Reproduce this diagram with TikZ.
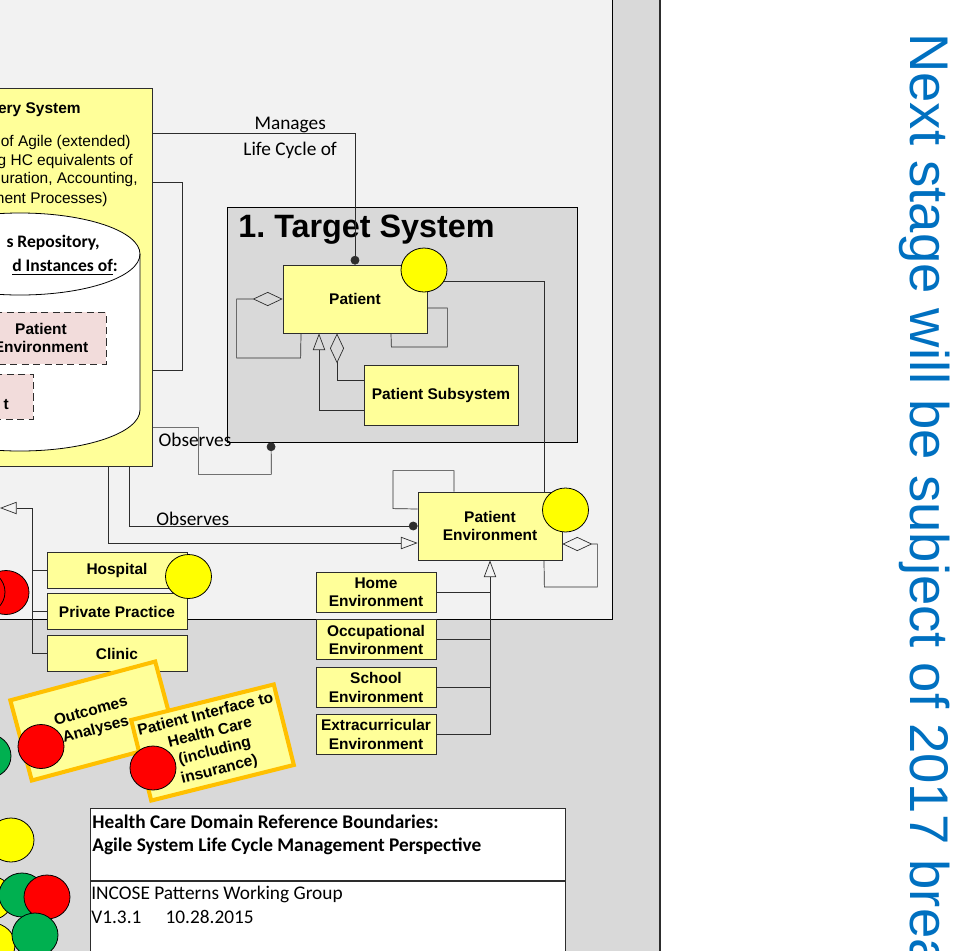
\documentclass[tikz,border=0pt]{standalone}
\usepackage{fontspec}
\setmainfont{Liberation Sans}
\newfontfamily\carlito{Carlito}
\usepackage{tikz}
\usetikzlibrary{arrows.meta,positioning,shapes.geometric}
\definecolor{panelgray}{RGB}{242,242,242}
\definecolor{midgray}{RGB}{217,217,217}
\definecolor{inkgray}{RGB}{45,45,45}
\definecolor{paleyellow}{RGB}{255,255,153}
\definecolor{palepink}{RGB}{242,220,219}
\definecolor{amber}{RGB}{255,192,0}
\definecolor{dotyellow}{RGB}{255,255,0}
\definecolor{dotred}{RGB}{255,0,0}
\definecolor{dotgreen}{RGB}{0,176,80}
\definecolor{noteblue}{RGB}{0,112,192}
\newcommand{\boxfont}{\bfseries\fontsize{8.8}{10.4}\selectfont}
\newcommand{\plainfont}{\fontsize{8.8}{10.8}\selectfont}
\newcommand{\lblfont}{\carlito\fontsize{11}{13}\selectfont}
\tikzset{
  cls/.style={draw=inkgray,line width=0.45pt,fill=paleyellow,minimum width=2.88cm,minimum height=1.36cm,align=center,font=\boxfont,inner sep=1pt},
  site/.style={cls,minimum width=2.8cm,minimum height=0.72cm},
  envbox/.style={cls,minimum width=2.4cm,minimum height=0.8cm},
  ghost/.style={cls,fill=palepink,dash pattern=on 4pt off 2.5pt,minimum width=2.6cm},
  note/.style={draw=amber,line width=2.3pt,fill=paleyellow,minimum width=3cm,minimum height=1.66cm,align=center,font=\bfseries\fontsize{8.8}{10.8}\selectfont,inner sep=1pt},
  lamp/.style={ellipse,draw=black,line width=0.45pt,minimum width=0.92cm,minimum height=0.88cm,inner sep=0pt},
  link/.style={draw=inkgray,line width=0.4pt},
  gen/.style={link,-{Triangle[open,length=9.5pt,width=7pt]}},
  agg/.style={link,{Diamond[open,length=17pt,width=8pt]}-},
  obs/.style={link,-{Circle[length=5pt]}},
  lbl/.style={font=\lblfont,inner sep=0pt},
  tb/.style={font=\lblfont,inner sep=0pt,anchor=base west}
}
\begin{document}
\begin{tikzpicture}[x=0.02cm,y=-0.02cm]
  \useasboundingbox (0,0) rectangle (975,951);
  \clip (0,0) rectangle (975,951);
  \fill[midgray] (0,0) rectangle (660,951);
  \fill[panelgray] (-5,-5) rectangle (612,619);
  \draw[black,line width=0.5pt] (-5,619) -| (612,-5);
  \draw[inkgray,line width=0.9pt] (660,0) -- (660,951);

  % delivery system with its repository
  \node[cls,minimum width=7.04cm,minimum height=7.56cm] (hcds) at (-24,277) {};
  \node[font=\boxfont,anchor=east,inner sep=0pt] (hcdsname) at (81,110) {ery System};
  \node[font=\plainfont,anchor=east,inner sep=0pt] (hcdsl1) at (131,142) {of Agile (extended)};
  \node[font=\plainfont,anchor=east,inner sep=0pt] (hcdsl2) at (133,161) {g HC equivalents of};
  \node[font=\plainfont,anchor=east,inner sep=0pt] (hcdsl3) at (138,179) {uration, Accounting,};
  \node[font=\plainfont,anchor=east,inner sep=0pt] (hcdsl4) at (108,199) {ment Processes)};
  \filldraw[fill=white,draw=black,line width=0.45pt] (140,254) -- (140,410)
    arc[start angle=0,end angle=180,x radius=120,y radius=41] -- (-100,254)
    arc[start angle=180,end angle=360,x radius=120,y radius=41] -- cycle;
  \draw[black,line width=0.45pt] (140,254) arc[start angle=0,end angle=180,x radius=120,y radius=41];
  \node[font=\carlito\bfseries\fontsize{10}{12}\selectfont,anchor=east,inner sep=0pt] (repo1) at (100,243) {s Repository,};
  \node[font=\carlito\bfseries\fontsize{10}{12}\selectfont,anchor=east,inner sep=0pt] (repo2) at (118,267) {\underline{d Instances of}:};
  \node[ghost,minimum height=1.04cm] (ghostenv) at (41,338) {Patient\\Environment};
  \node[ghost,minimum height=0.9cm] (ghostpat) at (-32,396.5) {};
  \node[font=\boxfont,anchor=east,inner sep=0pt] (ghostpattxt) at (9,405) {t};

  % target system
  \node[draw=black,line width=0.45pt,fill=midgray,minimum width=7cm,minimum height=4.7cm] (tsys) at (402,324.5) {};
  \node[font=\bfseries\fontsize{18.4}{22}\selectfont,anchor=base west,inner sep=0pt] (tsysname) at (238,237) {1.\ Target System};
  \node[cls] (patient) at (355,299) {Patient};
  \node[cls,minimum width=3.08cm,minimum height=1.2cm] (psub) at (441,395) {Patient Subsystem};
  \node[cls] (penv) at (490,526) {Patient\\Environment};

  \node[envbox] (home) at (376,592) {Home\\Environment};
  \node[envbox,below=0.14cm of home] (occup) {Occupational\\Environment};
  \node[envbox,below=0.14cm of occup] (school) {School\\Environment};
  \node[envbox,below=0.12cm of school] (extra) {Extracurricular\\Environment};

  \node[site] (hosp) at (117,570) {Hospital};
  \node[site,below=0.1cm of hosp] (ppract) {Private Practice};
  \node[site,below=0.1cm of ppract] (clinic) {Clinic};

  \node[note,rotate=15] (outc) at (93.5,721) {Outcomes\\Analyses};
  \node[note,rotate=14,minimum width=2.94cm] (pif) at (212.5,742.5) {Patient Interface to\\Health Care\\(including\\insurance)};

  % status lamps
  \node[lamp,fill=dotyellow] (pcirc) at (424,270) {};
  \node[lamp,fill=dotyellow] (pecirc) at (565.5,510) {};
  \node[lamp,fill=dotyellow] (hcirc) at (188.5,576.5) {};
  \node[lamp,fill=dotred] (ocirc) at (41,746.5) {};
  \node[lamp,fill=dotred] (picirc) at (153,768) {};
  \node[lamp,fill=dotred] (lred1) at (6,592.5) {};
  \node[lamp,fill=dotred] (lred2) at (-18,592) {};
  \node[lamp,fill=dotgreen] (lgreen1) at (-12,756) {};
  \node[lamp,fill=dotyellow] (lyel1) at (11,840) {};
  \node[lamp,fill=dotyellow] (lyel2) at (-10,898) {};
  \node[lamp,fill=dotyellow] (lyel3) at (-8,945) {};
  \node[lamp,fill=dotgreen] (lgreen2) at (22,895) {};
  \node[lamp,fill=dotred] (lred3) at (47,897) {};
  \node[lamp,fill=dotgreen] (lgreen3) at (35,935) {};

  % relations
  \draw[obs] ([yshift=-0.92cm]hcds.north east) -| node[lbl,above,pos=0.34] (mng) {Manages}
    node[lbl,below,pos=0.34,yshift=-0.16cm] (lco) {Life Cycle of} (patient.north);
  \draw[link] ([yshift=-1.9cm]hcds.north east) -- ++(30,0) |- ([yshift=1.92cm]hcds.south east);
  \draw[obs] ([yshift=0.78cm]hcds.south east) -- ++(46,0) -- ++(0,47) -- ++(73,0) -- ([xshift=-2.62cm]tsys.south);
  \node[lbl] (obsts) at (195,440) {Observes};
  \draw[obs] ([xshift=-0.46cm]hcds.south east) |- node[lbl,above,pos=0.61] (obspe) {Observes} (penv.west);
  \draw[gen] ([xshift=-0.88cm]hcds.south east) |- ([yshift=-0.34cm]penv.west);

  \draw[agg] (patient.west) -- ++(-46,0) -- ++(0,59) -- ++(64,0) -- ([xshift=-1.08cm]patient.south);
  \draw[link] ([yshift=-0.18cm]patient.east) -- ++(20,0) -- ++(0,39) -- ++(-56,0) -- ([xshift=0.72cm]patient.south);
  \draw[gen] ([yshift=-0.3cm]psub.west) -| ([xshift=-0.72cm]patient.south);
  \draw[agg] ([xshift=-0.36cm]patient.south) |- ([yshift=0.3cm]psub.west);
  \draw[link] (pcirc.-30) -| ([xshift=-0.36cm]penv.north east);

  \draw[link] ([xshift=-0.72cm]penv.north) -- ++(0,-21) -- ++(-61,0) -- ++(0,38) -- ([yshift=0.34cm]penv.west);
  \draw[agg] ([yshift=-0.36cm]penv.east) -- ++(35,0) -- ++(0,43) -- ++(-53,0) -- ([xshift=1.08cm]penv.south);
  \draw[gen] (extra.east) -| (penv.south);
  \draw[link] (home.east) -- (home.east -| penv.south);
  \draw[link] (occup.east) -- (occup.east -| penv.south);
  \draw[link] (school.east) -- (school.east -| penv.south);

  \coordinate (orgbus) at (32,508);
  \coordinate (orgtip) at (0,508);
  \draw[gen] (clinic.west) -| (orgbus) -- (orgtip);
  \draw[link] (hosp.west) -- (hosp.west -| orgbus);
  \draw[link] (ppract.west) -- (ppract.west -| orgbus);

  % title block
  \node[draw=inkgray,line width=0.45pt,fill=white,minimum width=9.5cm,minimum height=1.44cm,anchor=north west,inner sep=0pt] (tbhead) at (90,808) {};
  \node[draw=inkgray,line width=0.45pt,fill=white,minimum width=9.5cm,minimum height=1.6cm,anchor=north west,inner sep=0pt] (tbfoot) at (tbhead.south west) {};
  \node[tb,font=\lblfont\bfseries] (tbl1) at (92,828) {Health Care Domain Reference Boundaries:};
  \node[tb,font=\lblfont\bfseries] (tbl2) at (92,851) {Agile System Life Cycle Management Perspective};
  \node[tb] (tbl3) at (91,899) {INCOSE Patterns Working Group};
  \node[tb] (tbl4) at (91,923) {V1.3.1\hspace{1.25em}10.28.2015};

  \node[rotate=-90,anchor=base west,inner sep=0pt,text=noteblue,font=\fontsize{31}{37}\selectfont] (nextnote) at (910,33) {Next stage will be subject of 2017 brea};
\end{tikzpicture}
\end{document}
